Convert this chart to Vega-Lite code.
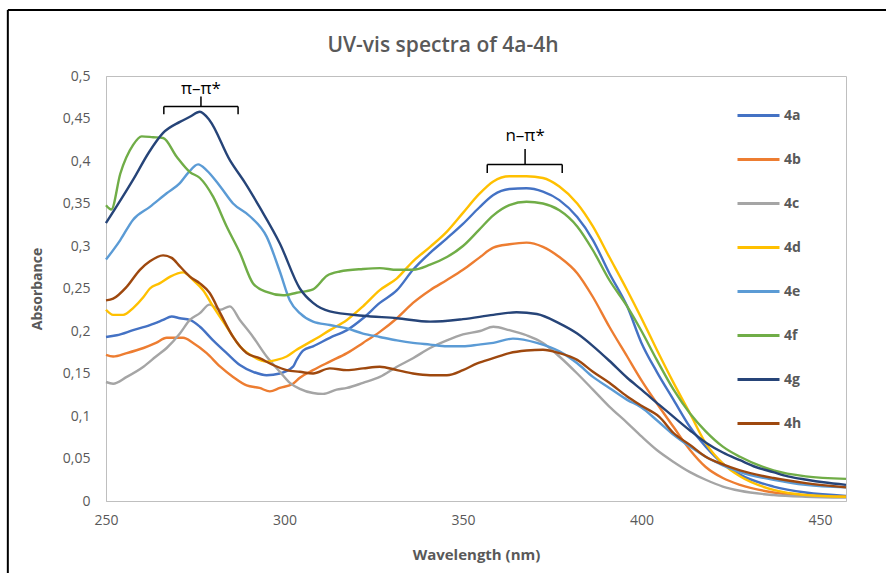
{
  "$schema": "https://vega.github.io/schema/vega-lite/v6.json",
  "width": 740,
  "height": 425,
  "autosize": "none",
  "padding": {"left": 106, "top": 76, "right": 40, "bottom": 72},
  "background": "white",
  "title": {"text": "UV-vis spectra of 4a-4h", "fontSize": 21, "font": "Open Sans", "fontWeight": 600, "color": "#595959", "anchor": "middle", "dx": -33, "offset": 0, "dy": 47},
  "config": {
    "view": {"stroke": "#BFBFBF", "strokeWidth": 1},
    "axis": {"labelFont": "Open Sans", "titleFont": "Open Sans", "labelColor": "#595959", "titleColor": "#595959", "labelFontSize": 14, "titleFontSize": 15, "titleFontWeight": "bold", "grid": false, "ticks": false, "domainColor": "#BFBFBF"}
  },
  "datasets": {
    "spectra": [
      {"s":"4a","w":250,"a":0.193},{"s":"4a","w":253,"a":0.195},{"s":"4a","w":257.6,"a":0.201},{"s":"4a","w":262.3,"a":0.207},{"s":"4a","w":266,"a":0.213},{"s":"4a","w":268.4,"a":0.217},{"s":"4a","w":270.7,"a":0.215},{"s":"4a","w":273.5,"a":0.213},{"s":"4a","w":276.3,"a":0.205},{"s":"4a","w":280,"a":0.189},{"s":"4a","w":283.8,"a":0.174},{"s":"4a","w":287.5,"a":0.16},{"s":"4a","w":291.2,"a":0.152},{"s":"4a","w":295,"a":0.148},{"s":"4a","w":298.7,"a":0.15},{"s":"4a","w":302.4,"a":0.158},{"s":"4a","w":303.4,"a":0.166},{"s":"4a","w":305.2,"a":0.177},{"s":"4a","w":308,"a":0.182},{"s":"4a","w":312.7,"a":0.192},{"s":"4a","w":317.5,"a":0.201},{"s":"4a","w":322,"a":0.215},{"s":"4a","w":326.7,"a":0.233},{"s":"4a","w":331.5,"a":0.248},{"s":"4a","w":336,"a":0.272},{"s":"4a","w":340.8,"a":0.292},{"s":"4a","w":345.5,"a":0.309},{"s":"4a","w":350,"a":0.326},{"s":"4a","w":354.5,"a":0.345},{"s":"4a","w":358.5,"a":0.36},{"s":"4a","w":363,"a":0.367},{"s":"4a","w":367.8,"a":0.368},{"s":"4a","w":372.4,"a":0.364},{"s":"4a","w":377,"a":0.354},{"s":"4a","w":382,"a":0.334},{"s":"4a","w":386.4,"a":0.307},{"s":"4a","w":391,"a":0.268},{"s":"4a","w":396,"a":0.229},{"s":"4a","w":400,"a":0.186},{"s":"4a","w":404.3,"a":0.152},{"s":"4a","w":409,"a":0.119},{"s":"4a","w":413.6,"a":0.087},{"s":"4a","w":418,"a":0.064},{"s":"4a","w":422.8,"a":0.044},{"s":"4a","w":427.6,"a":0.031},{"s":"4a","w":437,"a":0.017},{"s":"4a","w":446,"a":0.01},{"s":"4a","w":457.3,"a":0.006},

      {"s":"4b","w":250,"a":0.172},{"s":"4b","w":252,"a":0.17},{"s":"4b","w":255.8,"a":0.174},{"s":"4b","w":260.5,"a":0.18},{"s":"4b","w":264,"a":0.186},{"s":"4b","w":267,"a":0.192},{"s":"4b","w":271.6,"a":0.192},{"s":"4b","w":274.4,"a":0.186},{"s":"4b","w":278.2,"a":0.174},{"s":"4b","w":282,"a":0.158},{"s":"4b","w":285.6,"a":0.146},{"s":"4b","w":289.4,"a":0.136},{"s":"4b","w":293,"a":0.133},{"s":"4b","w":295.9,"a":0.129},{"s":"4b","w":298.7,"a":0.133},{"s":"4b","w":302.4,"a":0.138},{"s":"4b","w":304.3,"a":0.145},{"s":"4b","w":308,"a":0.154},{"s":"4b","w":312.7,"a":0.164},{"s":"4b","w":317.5,"a":0.174},{"s":"4b","w":322,"a":0.186},{"s":"4b","w":326.7,"a":0.199},{"s":"4b","w":331.5,"a":0.215},{"s":"4b","w":336,"a":0.233},{"s":"4b","w":340.8,"a":0.248},{"s":"4b","w":345.5,"a":0.26},{"s":"4b","w":350,"a":0.272},{"s":"4b","w":354.5,"a":0.286},{"s":"4b","w":358.5,"a":0.298},{"s":"4b","w":363,"a":0.302},{"s":"4b","w":367.8,"a":0.304},{"s":"4b","w":372.4,"a":0.299},{"s":"4b","w":377,"a":0.287},{"s":"4b","w":382,"a":0.268},{"s":"4b","w":386.4,"a":0.24},{"s":"4b","w":391,"a":0.205},{"s":"4b","w":396,"a":0.17},{"s":"4b","w":400,"a":0.142},{"s":"4b","w":404.3,"a":0.115},{"s":"4b","w":409,"a":0.087},{"s":"4b","w":413.6,"a":0.06},{"s":"4b","w":418,"a":0.04},{"s":"4b","w":422.8,"a":0.027},{"s":"4b","w":427.6,"a":0.019},{"s":"4b","w":437,"a":0.01},{"s":"4b","w":446,"a":0.006},{"s":"4b","w":457.3,"a":0.005},

      {"s":"4c","w":250,"a":0.14},{"s":"4c","w":252,"a":0.138},{"s":"4c","w":255.8,"a":0.146},{"s":"4c","w":260.5,"a":0.158},{"s":"4c","w":264,"a":0.17},{"s":"4c","w":267,"a":0.18},{"s":"4c","w":270.7,"a":0.197},{"s":"4c","w":273.5,"a":0.213},{"s":"4c","w":276.3,"a":0.221},{"s":"4c","w":279,"a":0.231},{"s":"4c","w":282,"a":0.225},{"s":"4c","w":284.7,"a":0.229},{"s":"4c","w":287.5,"a":0.213},{"s":"4c","w":291.2,"a":0.193},{"s":"4c","w":295,"a":0.17},{"s":"4c","w":298.7,"a":0.152},{"s":"4c","w":301.5,"a":0.139},{"s":"4c","w":304.3,"a":0.132},{"s":"4c","w":308,"a":0.127},{"s":"4c","w":310.8,"a":0.126},{"s":"4c","w":314.6,"a":0.131},{"s":"4c","w":317.5,"a":0.133},{"s":"4c","w":322,"a":0.139},{"s":"4c","w":326.7,"a":0.146},{"s":"4c","w":331.5,"a":0.158},{"s":"4c","w":336,"a":0.168},{"s":"4c","w":340.8,"a":0.18},{"s":"4c","w":345.5,"a":0.189},{"s":"4c","w":350,"a":0.196},{"s":"4c","w":354.8,"a":0.2},{"s":"4c","w":358.5,"a":0.205},{"s":"4c","w":363,"a":0.201},{"s":"4c","w":367.8,"a":0.195},{"s":"4c","w":372.4,"a":0.186},{"s":"4c","w":377,"a":0.17},{"s":"4c","w":382,"a":0.15},{"s":"4c","w":386.4,"a":0.131},{"s":"4c","w":391,"a":0.111},{"s":"4c","w":396,"a":0.092},{"s":"4c","w":400,"a":0.076},{"s":"4c","w":404.3,"a":0.06},{"s":"4c","w":409,"a":0.046},{"s":"4c","w":413.6,"a":0.034},{"s":"4c","w":418,"a":0.025},{"s":"4c","w":422.8,"a":0.017},{"s":"4c","w":427.6,"a":0.012},{"s":"4c","w":437,"a":0.007},{"s":"4c","w":446,"a":0.005},{"s":"4c","w":457.3,"a":0.004},

      {"s":"4d","w":250,"a":0.225},{"s":"4d","w":252,"a":0.219},{"s":"4d","w":254.8,"a":0.219},{"s":"4d","w":257.6,"a":0.227},{"s":"4d","w":260.5,"a":0.24},{"s":"4d","w":262.3,"a":0.25},{"s":"4d","w":265,"a":0.256},{"s":"4d","w":268,"a":0.264},{"s":"4d","w":271.6,"a":0.269},{"s":"4d","w":274.4,"a":0.26},{"s":"4d","w":277.2,"a":0.248},{"s":"4d","w":280,"a":0.229},{"s":"4d","w":283.8,"a":0.205},{"s":"4d","w":287.5,"a":0.182},{"s":"4d","w":291.2,"a":0.17},{"s":"4d","w":295,"a":0.164},{"s":"4d","w":297.8,"a":0.166},{"s":"4d","w":300.6,"a":0.17},{"s":"4d","w":303.4,"a":0.178},{"s":"4d","w":308,"a":0.189},{"s":"4d","w":312.7,"a":0.201},{"s":"4d","w":317.5,"a":0.213},{"s":"4d","w":322,"a":0.229},{"s":"4d","w":326.7,"a":0.248},{"s":"4d","w":331.5,"a":0.262},{"s":"4d","w":336,"a":0.282},{"s":"4d","w":340.8,"a":0.299},{"s":"4d","w":345.5,"a":0.317},{"s":"4d","w":350,"a":0.339},{"s":"4d","w":354.5,"a":0.361},{"s":"4d","w":358.5,"a":0.376},{"s":"4d","w":363,"a":0.382},{"s":"4d","w":367.8,"a":0.382},{"s":"4d","w":372.4,"a":0.38},{"s":"4d","w":377,"a":0.37},{"s":"4d","w":382,"a":0.35},{"s":"4d","w":386.4,"a":0.323},{"s":"4d","w":391,"a":0.287},{"s":"4d","w":396,"a":0.248},{"s":"4d","w":400,"a":0.215},{"s":"4d","w":404.3,"a":0.178},{"s":"4d","w":409,"a":0.139},{"s":"4d","w":413.6,"a":0.103},{"s":"4d","w":418,"a":0.068},{"s":"4d","w":422.8,"a":0.044},{"s":"4d","w":427.6,"a":0.029},{"s":"4d","w":437,"a":0.013},{"s":"4d","w":446,"a":0.007},{"s":"4d","w":457.3,"a":0.005},

      {"s":"4e","w":250,"a":0.284},{"s":"4e","w":254,"a":0.307},{"s":"4e","w":257.6,"a":0.331},{"s":"4e","w":262.3,"a":0.346},{"s":"4e","w":267,"a":0.362},{"s":"4e","w":270.7,"a":0.374},{"s":"4e","w":273,"a":0.386},{"s":"4e","w":275.8,"a":0.396},{"s":"4e","w":278.2,"a":0.389},{"s":"4e","w":282,"a":0.37},{"s":"4e","w":285.6,"a":0.35},{"s":"4e","w":290.3,"a":0.335},{"s":"4e","w":295,"a":0.311},{"s":"4e","w":298.7,"a":0.27},{"s":"4e","w":301.5,"a":0.236},{"s":"4e","w":304.3,"a":0.221},{"s":"4e","w":308,"a":0.211},{"s":"4e","w":312.7,"a":0.207},{"s":"4e","w":317.5,"a":0.203},{"s":"4e","w":322,"a":0.197},{"s":"4e","w":326.7,"a":0.193},{"s":"4e","w":331.5,"a":0.189},{"s":"4e","w":336,"a":0.186},{"s":"4e","w":340.8,"a":0.184},{"s":"4e","w":345.5,"a":0.182},{"s":"4e","w":350,"a":0.182},{"s":"4e","w":354.5,"a":0.184},{"s":"4e","w":358.5,"a":0.186},{"s":"4e","w":364,"a":0.191},{"s":"4e","w":370.7,"a":0.186},{"s":"4e","w":377,"a":0.176},{"s":"4e","w":382,"a":0.162},{"s":"4e","w":386.4,"a":0.146},{"s":"4e","w":391,"a":0.133},{"s":"4e","w":396,"a":0.119},{"s":"4e","w":400,"a":0.11},{"s":"4e","w":404.3,"a":0.095},{"s":"4e","w":409,"a":0.078},{"s":"4e","w":413.6,"a":0.064},{"s":"4e","w":418,"a":0.052},{"s":"4e","w":422.8,"a":0.042},{"s":"4e","w":427.6,"a":0.034},{"s":"4e","w":437,"a":0.025},{"s":"4e","w":446,"a":0.019},{"s":"4e","w":457.3,"a":0.016},

      {"s":"4f","w":250,"a":0.348},{"s":"4f","w":251.5,"a":0.343},{"s":"4f","w":254,"a":0.385},{"s":"4f","w":257.6,"a":0.419},{"s":"4f","w":260,"a":0.429},{"s":"4f","w":263.2,"a":0.428},{"s":"4f","w":266,"a":0.427},{"s":"4f","w":269.8,"a":0.405},{"s":"4f","w":273.5,"a":0.387},{"s":"4f","w":276.3,"a":0.38},{"s":"4f","w":280,"a":0.358},{"s":"4f","w":283.8,"a":0.323},{"s":"4f","w":287.5,"a":0.292},{"s":"4f","w":291.2,"a":0.256},{"s":"4f","w":295,"a":0.246},{"s":"4f","w":299.6,"a":0.242},{"s":"4f","w":303.4,"a":0.245},{"s":"4f","w":308,"a":0.249},{"s":"4f","w":311.9,"a":0.265},{"s":"4f","w":315.5,"a":0.27},{"s":"4f","w":322,"a":0.273},{"s":"4f","w":326.7,"a":0.274},{"s":"4f","w":331.5,"a":0.272},{"s":"4f","w":336,"a":0.272},{"s":"4f","w":340.8,"a":0.278},{"s":"4f","w":345.5,"a":0.287},{"s":"4f","w":350,"a":0.3},{"s":"4f","w":354.5,"a":0.319},{"s":"4f","w":358.5,"a":0.336},{"s":"4f","w":363,"a":0.348},{"s":"4f","w":367.8,"a":0.352},{"s":"4f","w":372.4,"a":0.35},{"s":"4f","w":377,"a":0.342},{"s":"4f","w":382,"a":0.323},{"s":"4f","w":386.4,"a":0.295},{"s":"4f","w":391,"a":0.26},{"s":"4f","w":396,"a":0.229},{"s":"4f","w":400,"a":0.2},{"s":"4f","w":404.3,"a":0.166},{"s":"4f","w":409,"a":0.131},{"s":"4f","w":413.6,"a":0.103},{"s":"4f","w":418,"a":0.082},{"s":"4f","w":422.8,"a":0.064},{"s":"4f","w":427.6,"a":0.052},{"s":"4f","w":437,"a":0.036},{"s":"4f","w":446,"a":0.029},{"s":"4f","w":457.3,"a":0.026},

      {"s":"4g","w":250,"a":0.327},{"s":"4g","w":257.6,"a":0.378},{"s":"4g","w":262,"a":0.41},{"s":"4g","w":266,"a":0.433},{"s":"4g","w":270.7,"a":0.446},{"s":"4g","w":273.5,"a":0.452},{"s":"4g","w":276.3,"a":0.458},{"s":"4g","w":279,"a":0.448},{"s":"4g","w":284.7,"a":0.401},{"s":"4g","w":289,"a":0.374},{"s":"4g","w":293,"a":0.346},{"s":"4g","w":298.7,"a":0.303},{"s":"4g","w":304.3,"a":0.25},{"s":"4g","w":308,"a":0.233},{"s":"4g","w":312.7,"a":0.223},{"s":"4g","w":322,"a":0.218},{"s":"4g","w":331.5,"a":0.215},{"s":"4g","w":340.8,"a":0.211},{"s":"4g","w":350,"a":0.214},{"s":"4g","w":358.5,"a":0.219},{"s":"4g","w":365,"a":0.222},{"s":"4g","w":370.7,"a":0.22},{"s":"4g","w":377,"a":0.209},{"s":"4g","w":382,"a":0.197},{"s":"4g","w":386.5,"a":0.182},{"s":"4g","w":391,"a":0.165},{"s":"4g","w":396,"a":0.145},{"s":"4g","w":400,"a":0.131},{"s":"4g","w":405,"a":0.113},{"s":"4g","w":409,"a":0.099},{"s":"4g","w":413.6,"a":0.083},{"s":"4g","w":418.3,"a":0.068},{"s":"4g","w":422.8,"a":0.057},{"s":"4g","w":427.6,"a":0.048},{"s":"4g","w":432,"a":0.04},{"s":"4g","w":436.9,"a":0.034},{"s":"4g","w":441,"a":0.029},{"s":"4g","w":446.3,"a":0.025},{"s":"4g","w":451,"a":0.022},{"s":"4g","w":457.3,"a":0.019},

      {"s":"4h","w":250,"a":0.236},{"s":"4h","w":252,"a":0.238},{"s":"4h","w":255.8,"a":0.252},{"s":"4h","w":259.5,"a":0.272},{"s":"4h","w":262.3,"a":0.282},{"s":"4h","w":266,"a":0.289},{"s":"4h","w":268.4,"a":0.286},{"s":"4h","w":270.7,"a":0.276},{"s":"4h","w":273.5,"a":0.264},{"s":"4h","w":276.3,"a":0.256},{"s":"4h","w":279,"a":0.245},{"s":"4h","w":282,"a":0.221},{"s":"4h","w":285.6,"a":0.193},{"s":"4h","w":289.4,"a":0.174},{"s":"4h","w":293,"a":0.168},{"s":"4h","w":296.8,"a":0.16},{"s":"4h","w":300.6,"a":0.154},{"s":"4h","w":304.3,"a":0.152},{"s":"4h","w":308,"a":0.15},{"s":"4h","w":312.7,"a":0.156},{"s":"4h","w":317.5,"a":0.154},{"s":"4h","w":322,"a":0.156},{"s":"4h","w":326.7,"a":0.158},{"s":"4h","w":331.5,"a":0.154},{"s":"4h","w":336,"a":0.15},{"s":"4h","w":340.8,"a":0.148},{"s":"4h","w":345.5,"a":0.148},{"s":"4h","w":350,"a":0.154},{"s":"4h","w":354,"a":0.162},{"s":"4h","w":358.5,"a":0.168},{"s":"4h","w":363,"a":0.174},{"s":"4h","w":367.8,"a":0.177},{"s":"4h","w":372.4,"a":0.178},{"s":"4h","w":377,"a":0.174},{"s":"4h","w":382,"a":0.166},{"s":"4h","w":386.4,"a":0.152},{"s":"4h","w":391,"a":0.139},{"s":"4h","w":396,"a":0.123},{"s":"4h","w":400,"a":0.112},{"s":"4h","w":405,"a":0.099},{"s":"4h","w":409,"a":0.08},{"s":"4h","w":413.6,"a":0.066},{"s":"4h","w":418,"a":0.052},{"s":"4h","w":422.8,"a":0.043},{"s":"4h","w":427.6,"a":0.036},{"s":"4h","w":437,"a":0.027},{"s":"4h","w":446,"a":0.021},{"s":"4h","w":457.3,"a":0.016}
    ],
    "brackets": [
      {"w":266.2,"w2":287,"a":0.464,"a2":0.464},
      {"w":266.2,"w2":266.2,"a":0.455,"a2":0.464},
      {"w":287,"w2":287,"a":0.455,"a2":0.464},
      {"w":276.6,"w2":276.6,"a":0.464,"a2":0.476},
      {"w":356.8,"w2":377.8,"a":0.396,"a2":0.396},
      {"w":356.8,"w2":356.8,"a":0.386,"a2":0.396},
      {"w":377.8,"w2":377.8,"a":0.386,"a2":0.396},
      {"w":367.4,"w2":367.4,"a":0.396,"a2":0.414}
    ],
    "labels": [
      {"w":276.6,"a":0.485,"t":"π–π*"},
      {"w":367.4,"a":0.43,"t":"n–π*"}
    ],
    "frame": [
      {"w":222.5,"w2":222.5,"a":-0.12,"a2":0.5776},
      {"w":222.5,"w2":475,"a":0.5776,"a2":0.5776}
    ]
  },
  "layer": [
    {
      "data": {"name": "spectra"},
      "mark": {"type": "line", "strokeWidth": 2.4, "interpolate": "monotone"},
      "encoding": {
        "x": {"field": "w", "type": "quantitative", "scale": {"domain": [250, 457.3], "nice": false, "zero": false},
              "axis": {"title": "Wavelength (nm)", "values": [250, 300, 350, 400, 450], "labelFlush": false, "labelPadding": 12, "titlePadding": 20}},
        "y": {"field": "a", "type": "quantitative", "scale": {"domain": [0, 0.5], "nice": false},
              "axis": {"title": "Absorbance", "values": [0, 0.05, 0.1, 0.15, 0.2, 0.25, 0.3, 0.35, 0.4, 0.45, 0.5], "labelFlush": false, "labelExpr": "replace(format(datum.value, '~g'), '.', ',')", "labelPadding": 16, "titlePadding": 18, "titleFontSize": 14}},
        "color": {"field": "s", "type": "nominal",
                  "scale": {"domain": ["4a","4b","4c","4d","4e","4f","4g","4h"], "range": ["#4472C4","#ED7D31","#A5A5A5","#FFC000","#5B9BD5","#70AD47","#264478","#9E480E"]},
                  "legend": {"orient": "none", "legendX": 630, "legendY": 17, "title": null, "symbolType": "stroke", "symbolSize": 1764, "symbolStrokeWidth": 3, "labelFont": "Open Sans", "labelFontSize": 14, "labelFontWeight": "bold", "labelColor": "#595959", "labelOffset": 3, "rowPadding": 14}}
      }
    },
    {
      "data": {"name": "brackets"},
      "mark": {"type": "rule", "color": "black", "strokeWidth": 1.5},
      "encoding": {
        "x": {"field": "w", "type": "quantitative"},
        "x2": {"field": "w2"},
        "y": {"field": "a", "type": "quantitative"},
        "y2": {"field": "a2"}
      }
    },
    {
      "data": {"name": "labels"},
      "mark": {"type": "text", "font": "Open Sans", "fontSize": 17, "color": "black", "baseline": "middle", "align": "center"},
      "encoding": {
        "x": {"field": "w", "type": "quantitative"},
        "y": {"field": "a", "type": "quantitative"},
        "text": {"field": "t"}
      }
    },
    {
      "data": {"name": "frame"},
      "mark": {"type": "rule", "color": "black", "strokeWidth": 2},
      "encoding": {
        "x": {"field": "w", "type": "quantitative"},
        "x2": {"field": "w2"},
        "y": {"field": "a", "type": "quantitative"},
        "y2": {"field": "a2"}
      }
    }
  ]
}
